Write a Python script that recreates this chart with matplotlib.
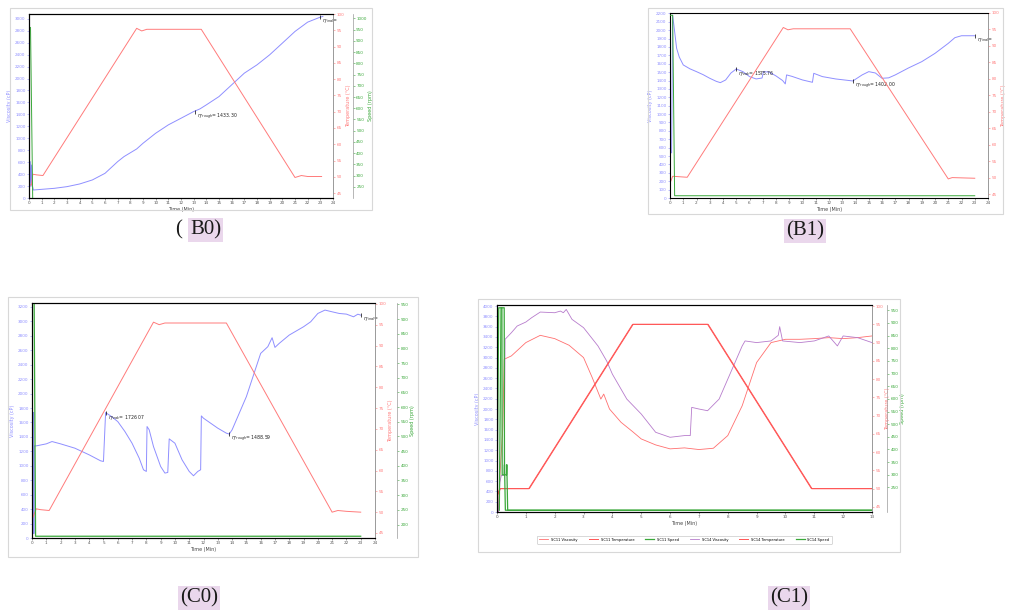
import matplotlib.pyplot as plt
from matplotlib.patches import Rectangle

# ---- data ----
# (B0)
b0_visc_t = [0.05, 0.1, 0.15, 0.2, 0.25, 0.35, 1, 2, 3, 4, 5, 6, 7, 7.5, 8.5, 9, 10, 11, 12, 13,
             13.5, 14, 15, 16, 17, 18, 19, 20, 21, 22, 23, 23.2]
b0_visc = [218, 609, 190, 553, 218, 134, 145, 162, 190, 235, 302, 413, 609, 693, 821, 916, 1084,
           1224, 1335, 1447, 1492, 1559, 1698, 1894, 2090, 2229, 2397, 2592, 2788, 2944, 3028, 3039]
b0_temp_t = [0, 0.2, 0.3, 0.6, 1.1, 8.5, 8.9, 9.3, 13.6, 21.0, 21.5, 22.0, 23.1]
b0_temp = [47.5, 47.5, 50.8, 50.6, 50.4, 95.6, 94.8, 95.3, 95.3, 49.8, 50.4, 50.1, 50.1]
b0_speed_t = [0, 0.12, 0.3, 23.1]
b0_speed = [960, 960, 160, 160]

# (B1)
b1_visc_t = [0.03, 0.12, 0.2, 0.3, 0.5, 0.7, 1, 1.5, 2, 2.5, 3, 3.5, 3.8, 4.2, 4.6, 5, 5.5, 6, 6.5,
             6.95, 7.05, 7.5, 8, 8.5, 8.7, 8.8, 9.2, 10, 10.75, 10.85, 11.5, 12.5, 13.8, 14.5, 15,
             15.5, 16, 16.5, 17, 18, 19, 20, 21, 21.5, 22, 23]
b1_visc = [535, 540, 2180, 2050, 1784, 1680, 1586, 1540, 1506, 1470, 1427, 1390, 1375, 1407, 1490,
           1538, 1506, 1447, 1419, 1430, 1506, 1500, 1455, 1400, 1360, 1467, 1450, 1407, 1379, 1486,
           1447, 1419, 1395, 1467, 1506, 1490, 1427, 1432, 1467, 1550, 1625, 1724, 1843, 1911,
           1934, 1934]
b1_temp_t = [0, 0.2, 1.3, 8.55, 8.9, 9.3, 13.6, 21.0, 21.3, 23]
b1_temp = [48.3, 50.4, 50.1, 95.6, 94.9, 95.2, 95.2, 49.6, 50.0, 49.8]
b1_speed_t = [0, 0.2, 0.35, 23]
b1_speed = [960, 960, 160, 160]

# (C0)
c0_visc_t = [0.08, 0.1, 0.13, 0.16, 0.3, 1, 1.4, 2, 3, 4, 4.8, 5.0, 5.15, 5.5, 6, 6.5, 7, 7.5, 7.8,
             8.0, 8.05, 8.2, 8.5, 9, 9.3, 9.5, 9.6, 10, 10.5, 11, 11.3, 11.6, 11.8, 11.85, 12, 13,
             13.6, 13.8, 14, 14.5, 15, 15.5, 16, 16.5, 16.8, 17, 17.3, 18, 19, 19.5, 20, 20.5, 21,
             21.5, 22, 22.5, 22.8, 23]
c0_visc = [400, 1740, 60, 1276, 1276, 1304, 1336, 1304, 1244, 1152, 1069, 1060, 1737, 1691, 1613,
           1475, 1313, 1106, 945, 922, 1544, 1498, 1267, 991, 899, 908, 1373, 1313, 1083, 922, 862,
           922, 945, 1691, 1659, 1521, 1452, 1440, 1498, 1728, 1958, 2258, 2557, 2650, 2774, 2640,
           2696, 2811, 2926, 2995, 3110, 3157, 3133, 3110, 3101, 3064, 3100, 3087]
c0_temp_t = [0, 0.3, 0.6, 1.2, 8.5, 8.9, 9.3, 13.6, 21.0, 21.4, 22, 23]
c0_temp = [48.2, 50.8, 50.6, 50.4, 95.6, 95.0, 95.4, 95.4, 50.0, 50.4, 50.2, 50.0]
c0_speed_t = [0, 0.15, 0.25, 23]
c0_speed = [960, 960, 160, 160]

# (C1) two samples on one chart
c1_sc11_visc_t = [0.05, 0.1, 0.2, 0.25, 0.5, 1, 1.5, 2, 2.5, 3, 3.3, 3.6, 3.7, 3.9, 4.3, 4.7, 5, 5.5,
                  6, 6.5, 7, 7.5, 8, 8.5, 9, 9.5, 10, 10.5, 11, 11.5, 12, 12.5, 13]
c1_sc11_visc = [0, 710, 1613, 2967, 3032, 3290, 3431, 3367, 3238, 2999, 2612, 2193, 2290, 2000,
                1742, 1561, 1419, 1303, 1226, 1245, 1213, 1238, 1484, 2064, 2903, 3290, 3354, 3354,
                3367, 3386, 3367, 3386, 3419]
c1_sc14_visc_t = [0.05, 0.1, 0.15, 0.25, 0.28, 0.5, 0.7, 1, 1.2, 1.5, 2, 2.2, 2.3, 2.4, 2.6, 3, 3.5,
                  3.8, 4, 4.5, 5, 5.5, 6, 6.5, 6.7, 6.75, 7, 7.3, 7.7, 8, 8.5, 8.6, 9, 9.5, 9.75,
                  9.8, 9.9, 10.5, 11, 11.5, 11.8, 12, 12.5, 13]
c1_sc14_visc = [0, 580, 710, 710, 3354, 3483, 3612, 3689, 3773, 3883, 3870, 3902, 3870, 3934, 3741,
                3580, 3225, 2935, 2677, 2193, 1903, 1548, 1451, 1484, 1484, 2032, 2000, 1967, 2193,
                2580, 3225, 3322, 3290, 3322, 3431, 3599, 3322, 3290, 3322, 3419, 3225, 3419, 3386,
                3290]
c1_temp_t = [0, 0.1, 1.1, 4.7, 7.3, 10.9, 13]
c1_temp = [48.2, 50.0, 50.0, 95.0, 95.0, 50.0, 50.0]
c1_speed_t = [0, 0.06, 0.17, 0.18, 0.25, 0.26, 0.29, 13]
c1_speed = [160, 960, 960, 300, 300, 340, 160, 160]

W, H = 1013, 610
BLUE = '#8f8fff'
RED = '#ff7b7b'
GREEN = '#3aa83a'


def px_rect(l, t, r, b):
    return [l / W, 1 - b / H, (r - l) / W, (b - t) / H]


def style_ticks(ax, color):
    ax.tick_params(labelsize=3, length=1.5, width=0.4, pad=1, colors=color)
    ax.tick_params(axis='x', colors='#555555')


def make_panel(fig, rect, xmax, vlim, vticks, tlim, tticks, slim=None, sticks=None, green_off=1.065):
    ax = fig.add_axes(px_rect(*rect))
    for s in ax.spines.values():
        s.set_color('#9a9a9a')
        s.set_linewidth(0.6)
    ax.set_xlim(0, xmax)
    ax.set_xticks(range(0, xmax + 1))
    ax.set_ylim(*vlim)
    ax.set_yticks(vticks)
    style_ticks(ax, BLUE)
    ax.set_xlabel('Time (Min)', fontsize=3.5, labelpad=1, color='#444444')
    ax.set_ylabel('Viscosity (cP)', fontsize=3.5, labelpad=2, color=BLUE)

    axt = ax.twinx()
    axt.set_ylim(*tlim)
    axt.set_yticks(tticks)
    style_ticks(axt, RED)
    axt.spines['right'].set_color('#9a9a9a')
    axt.spines['right'].set_linewidth(0.6)
    axt.set_ylabel('Temperature (°C)', fontsize=3.5, labelpad=1, color=RED)

    axs = ax.twinx()
    axs.set_ylim(*slim)
    if sticks is None:
        axs.axis('off')
    else:
        axs.spines['right'].set_position(('axes', green_off))
        axs.spines['right'].set_color('#9a9a9a')
        axs.spines['right'].set_linewidth(0.5)
        axs.set_yticks(sticks)
        style_ticks(axs, GREEN)
        axs.set_ylabel('Speed (rpm)', fontsize=3.5, labelpad=1, color=GREEN)
    return ax, axt, axs


def mark(ax, x, y, label):
    ax.plot([x], [y], marker='|', color='black', ms=2.5, mew=0.5)
    ax.text(x + 0.15, y, label, fontsize=3.3, va='top', ha='left', color='#222222')


fig = plt.figure(figsize=(W / 100, H / 100), dpi=100)

# outer grey frames of the pasted screenshots
for l, t, r, b in [(10, 8, 372, 210), (648, 8, 1003, 214), (8, 297, 418, 557), (478, 299, 900, 552)]:
    fig.add_artist(Rectangle((l / W, 1 - b / H), (r - l) / W, (b - t) / H, transform=fig.transFigure,
                             fill=False, edgecolor='#d8d8d8', linewidth=0.8))

# (B0)
ax, axt, axs = make_panel(fig, (29, 14, 333, 198), 24, (0, 3080), range(0, 3001, 200),
                          (43.5, 100), range(45, 101, 5), (200, 1020), range(250, 1001, 50))
axs.plot(b0_speed_t, b0_speed, color=GREEN, lw=0.7)
axt.plot(b0_temp_t, b0_temp, color=RED, lw=0.7)
ax.plot(b0_visc_t, b0_visc, color=BLUE, lw=0.7)
mark(ax, 13.1, 1447, r'$\eta_{Trough}$= 1433.30')
mark(ax, 23.0, 3030, r'$\eta_{Final}$=')

# (B1)
ax, axt, axs = make_panel(fig, (670, 13, 988, 198), 24, (0, 2205), range(0, 2201, 100),
                          (43.8, 100), range(45, 101, 5), (150, 970))
axs.plot(b1_speed_t, b1_speed, color=GREEN, lw=0.7)
axt.plot(b1_temp_t, b1_temp, color=RED, lw=0.7)
ax.plot(b1_visc_t, b1_visc, color=BLUE, lw=0.7)
mark(ax, 5.0, 1538, r'$\eta_{Peak}$= 1575.76')
mark(ax, 13.8, 1395, r'$\eta_{Trough}$= 1402.00')
mark(ax, 23.0, 1934, r'$\eta_{Final}$=')

# (C0)
ax, axt, axs = make_panel(fig, (32, 303, 375, 538), 24, (0, 3255), range(0, 3201, 200),
                          (43.8, 100.2), range(45, 101, 5), (154, 955), range(200, 951, 50),
                          green_off=1.064)
axs.plot(c0_speed_t, c0_speed, color=GREEN, lw=0.9)
axt.plot(c0_temp_t, c0_temp, color=RED, lw=0.7)
ax.plot(c0_visc_t, c0_visc, color=BLUE, lw=0.7)
mark(ax, 5.15, 1737, r'$\eta_{Peak}$= 1726.07')
mark(ax, 13.8, 1440, r'$\eta_{Trough}$= 1488.59')
mark(ax, 23.0, 3087, r'$\eta_{Final}$=')

# (C1)
ax, axt, axs = make_panel(fig, (497, 305, 872, 512), 13, (0, 4020), range(0, 4001, 200),
                          (43.6, 100.3), range(45, 101, 5), (153, 971), range(250, 951, 50),
                          green_off=1.04)
h1, = ax.plot(c1_sc11_visc_t, c1_sc11_visc, color='#ff6f6f', lw=0.6)
h2, = axt.plot(c1_temp_t, c1_temp, color='#ff5555', lw=0.7)
h3, = axs.plot(c1_speed_t, c1_speed, color=GREEN, lw=0.9)
h4, = ax.plot(c1_sc14_visc_t, c1_sc14_visc, color='#b77ccc', lw=0.6)
h5, = axt.plot([t + 0.02 for t in c1_temp_t], c1_temp, color='#ff5555', lw=0.7)
h6, = axs.plot([t + 0.08 for t in c1_speed_t], c1_speed, color=GREEN, lw=0.9)
ax.set_xlabel('Time (Min)', fontsize=3.5, labelpad=1, color='#444444')
leg = ax.legend([h1, h2, h3, h4, h5, h6],
                ['SC11 Viscosity', 'SC11 Temperature', 'SC11 Speed',
                 'SC14 Viscosity', 'SC14 Temperature', 'SC14 Speed'],
                ncol=6, loc='upper center', bbox_to_anchor=(0.5, -0.105), fontsize=2.6,
                frameon=True, handlelength=2.5, columnspacing=3, borderpad=0.6)
leg.get_frame().set_linewidth(0.4)
leg.get_frame().set_edgecolor('#aaaaaa')

# captions
cap = dict(family='Liberation Serif', fontsize=15, va='center', color='#1a1a1a')
hl = dict(facecolor='#ead7ec', edgecolor='none', pad=1.5)
fig.text(175 / W, 1 - 230 / H, '(', **cap)
fig.text(190 / W, 1 - 230 / H, 'B0)', bbox=hl, **cap)
fig.text(786 / W, 1 - 231 / H, '(B1)', bbox=hl, **cap)
fig.text(180 / W, 1 - 598 / H, '(C0)', bbox=hl, **cap)
fig.text(770 / W, 1 - 598 / H, '(C1)', bbox=hl, **cap)

fig.savefig('out.png', dpi=100, facecolor='white')
